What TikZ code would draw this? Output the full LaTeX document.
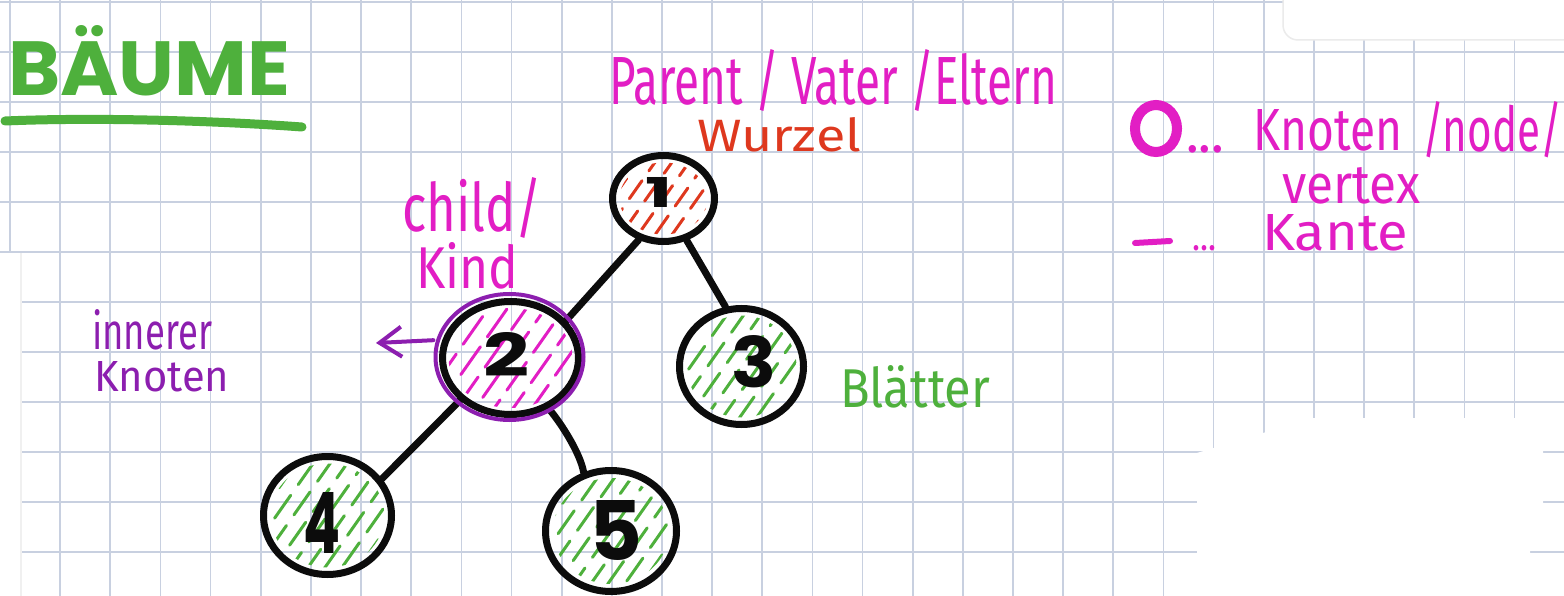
\documentclass[tikz,border=0pt]{standalone}
\usepackage{fontspec}
\usepackage{graphicx}
\setmainfont{Fira Sans}
\newfontfamily\titlefont{Poppins}
\usetikzlibrary{shapes.geometric,calc,arrows.meta}
\definecolor{mag}{RGB}{226,30,196}
\definecolor{redw}{RGB}{222,56,30}
\definecolor{purp}{RGB}{140,30,175}
\definecolor{grn}{RGB}{78,176,60}
\definecolor{gridc}{RGB}{200,208,224}
\definecolor{ink}{RGB}{12,12,12}
\newcommand{\hw}[3]{\resizebox{#1pt}{#2pt}{#3}}
\newcommand{\dig}[5]{\makebox[#3pt][l]{\hspace*{#1pt}\raisebox{#2pt}[#4pt][0pt]{\resizebox{#3pt}{#4pt}{#5}}}}
\newcommand{\hatchnode}[8]{%
  \begin{scope}
    \clip (#1) ellipse [x radius=#2, y radius=#3];
    \foreach \k [evaluate=\k as \ph using {mod(\k*37+200,#7+#8)}] in {-#6,...,#6}
      \draw[hatch, draw=#4, dash pattern=on #7pt off #8pt, dash phase=\ph pt]
        ($(#1)+({\k*#5-45},64)$) -- ($(#1)+({\k*#5+45},-64)$);
  \end{scope}}
\begin{document}
\begin{tikzpicture}[x=1pt,y=-1pt,
  gridline/.style={draw=gridc, line width=1.7pt},
  hatch/.style={line width=3pt, line cap=round},
  treenode/.style={ellipse, draw=ink, line width=7pt, inner sep=0pt, font=\titlefont\bfseries, text=ink},
  treeedge/.style={draw=ink, line width=7pt, line cap=round},
  hand/.style={inner sep=0pt, anchor=base west, font=\fontsize{40}{48}\selectfont}]
\useasboundingbox (0,0) rectangle (1564,596);
\fill[white] (0,0) rectangle (1564,596);
% grid paper
\foreach \k in {0,...,11} \draw[gridline] (0,{2.3+50*\k}) -- (1564,{2.3+50*\k});
\foreach \k in {0,...,31} \draw[gridline] ({10+50.15*\k},0) -- ({10+50.15*\k},596);
\fill[white] (0,253) rectangle (21,596);
\draw[black!6, line width=2pt] (21,253) -- (21,596);
\fill[white] (1197,453) -- (1263,433) -- (1313,418) -- (1543,418) -- (1543,510) -- (1530,510) -- (1530,600) -- (1197,600) -- cycle;
\filldraw[fill=white, draw=black!8, line width=1.5pt, rounded corners=15pt] (1283,-30) rectangle (1590,40);
% title
\node[hand, text=grn, font=\titlefont\bfseries\fontsize{60}{70}\selectfont] (title) at (8,96) {\hw{282}{70}{BÄUME}};
\coordinate (ulA) at (5,121);
\coordinate (ulB) at (302,127);
\draw[grn, line width=9pt, line cap=round] (ulA) .. controls (100,117) and (220,121) .. (ulB);
% node centres
\coordinate (c1) at (663.5,198.5);
\coordinate (c2) at (510.5,358);
\coordinate (c3) at (741.5,366.5);
\coordinate (c4) at (327.5,515.5);
\coordinate (c5) at (611,531);
% hatching
\hatchnode{c1}{44}{36}{redw}{17}{4}{22}{12}
\hatchnode{c2}{62}{50}{mag}{19}{4}{34}{12}
\hatchnode{c3}{55}{51}{grn}{17}{4}{28}{13}
\hatchnode{c4}{57}{52}{grn}{17}{4}{28}{13}
\hatchnode{c5}{58}{53}{grn}{17}{4}{28}{13}
% tree nodes
\node[treenode, minimum width=102pt, minimum height=86pt] (n1) at (c1) {\dig{-5}{6}{27}{30}{1}};
\node[treenode, minimum width=136pt, minimum height=113pt] (n2) at (c2) {\dig{-4}{3}{46}{44}{2}};
\node[treenode, minimum width=124pt, minimum height=116pt] (n3) at (c3) {\dig{12}{5.5}{45}{52}{3}};
\node[treenode, minimum width=128pt, minimum height=118pt] (n4) at (c4) {\dig{-6}{-7}{37}{61}{4}};
\node[treenode, minimum width=131pt, minimum height=121pt] (n5) at (c5) {\dig{4.5}{1}{53}{60}{5}};
% edges
\draw[treeedge] (n1.239) -- (n2.34);
\draw[treeedge] (n1.-61) -- (n3.105);
\draw[treeedge] (n2.220) -- (n4.34);
\draw[treeedge] (n2.-53) .. controls ($(n2.-53)+(13,15)$) and ($(n5.115)+(-3,-18)$) .. (n5.115);
% inner node highlight
\draw[purp, line width=4pt] ($(n2.center)+(-1,-1)$) ellipse [x radius=74, y radius=63];
\coordinate (arrtip) at (376,343);
\draw[purp, line width=4pt, line cap=round, shorten <=9pt, -{Straight Barb[length=22pt,width=30pt,line width=4pt]}] (n2.165) -- (arrtip);
% labels
\node[hand, text=mag] (parent) at (609,105) {\hw{448}{55}{Parent / Vater /Eltern}};
\node[hand, text=redw] (wurzel) at (697,152) {\hw{164}{34}{Wurzel}};
\node[hand, text=mag] (child) at (402,232) {\hw{140}{54}{child/}};
\node[hand, text=mag] (kind) at (416,288) {\hw{102}{46}{Kind}};
\node[hand, text=purp] (innerA) at (92,349) {\hw{120}{40}{innerer}};
\node[hand, text=purp] (innerB) at (94,391) {\hw{135}{30}{Knoten}};
\node[hand, text=grn] (blaetter) at (840,407) {\hw{150}{42}{Blätter}};
% legend
\node[ellipse, draw=mag, line width=10pt, minimum width=42pt, minimum height=47pt, inner sep=0pt] (legnode) at (1156,128.5) {};
\node[hand, text=mag] (legdotsA) at (1186,153) {\hw{38}{7}{...}};
\node[hand, text=mag] (legA) at (1253,151) {\hw{149}{41}{Knoten}};
\node[hand, text=mag] (legB) at (1422,152) {\hw{140}{50}{/node/}};
\node[hand, text=mag] (legC) at (1282,204) {\hw{138}{36}{vertex}};
\coordinate (dashA) at (1135,243);
\coordinate (dashB) at (1170,241);
\draw[mag, line width=6pt, line cap=round] (dashA) -- (dashB);
\node[hand, text=mag] (legdotsB) at (1192,251) {\hw{24}{5}{...}};
\node[hand, text=mag] (legD) at (1262,251) {\hw{146}{36}{Kante}};
\end{tikzpicture}
\end{document}
